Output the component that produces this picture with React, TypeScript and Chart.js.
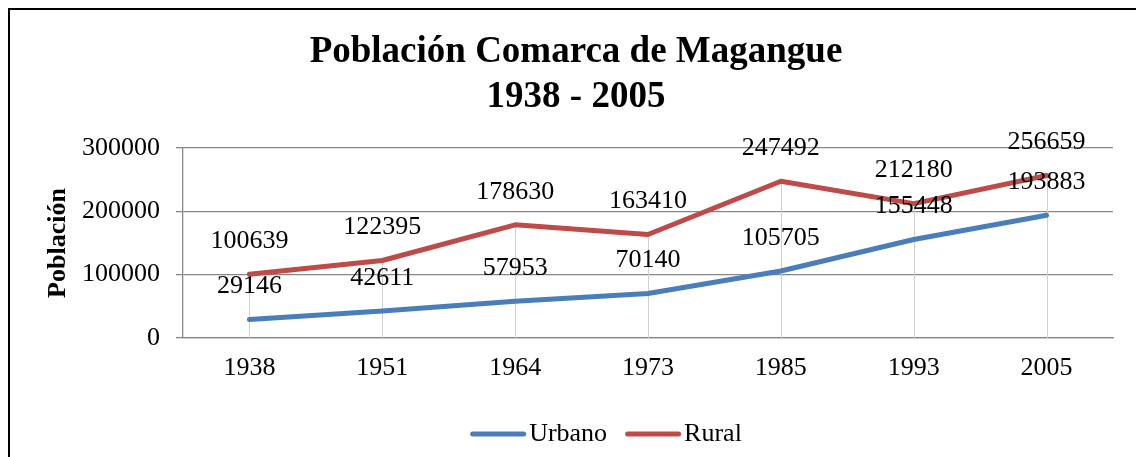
import React, { useEffect, useRef } from "react";
import { Chart, registerables } from "chart.js";

Chart.register(...registerables);

const categories = ["1938", "1951", "1964", "1973", "1985", "1993", "2005"];
const urbano = [29146, 42611, 57953, 70140, 105705, 155448, 193883];
const rural = [100639, 122395, 178630, 163410, 247492, 212180, 256659];
const seriesNames = ["Urbano", "Rural"];
const seriesColors = ["#4a7ebb", "#be4b48"];
const titleLines = ["Población Comarca de Magangue", "1938 - 2005"];
const yAxisTitle = "Población";
const yMin = 0;
const yMax = 300000;
const yStep = 100000;

const FONT = "'Liberation Serif', 'Times New Roman', serif";
const GRID = "#878787";

const dropLines = {
  id: "dropLines",
  beforeDatasetsDraw(chart: any) {
    const { ctx, scales } = chart;
    const x = scales.x;
    const y = scales.y;
    ctx.save();
    ctx.strokeStyle = "#cfcfcf";
    ctx.lineWidth = 1;
    categories.forEach((_, i) => {
      const vals = chart.data.datasets.map((d: any) => d.data[i] as number);
      const top = Math.max(...vals);
      const px = Math.round(x.getPixelForValue(i)) + 0.5;
      ctx.beginPath();
      ctx.moveTo(px, y.getPixelForValue(yMin));
      ctx.lineTo(px, y.getPixelForValue(top));
      ctx.stroke();
    });
    ctx.restore();
  },
};

const dataLabels = {
  id: "dataLabels",
  afterDatasetsDraw(chart: any) {
    const { ctx } = chart;
    ctx.save();
    ctx.font = `26px ${FONT}`;
    ctx.fillStyle = "#000";
    ctx.textAlign = "center";
    ctx.textBaseline = "middle";
    chart.data.datasets.forEach((ds: any, di: number) => {
      const meta = chart.getDatasetMeta(di);
      meta.data.forEach((pt: any, i: number) => {
        ctx.fillText(String(ds.data[i]), pt.x, pt.y - 33);
      });
    });
    ctx.restore();
  },
};

const lineLegend = {
  id: "lineLegend",
  afterDraw(chart: any) {
    const { ctx } = chart;
    const lineLen = 56;
    const gapText = 3;
    const gapItem = 18;
    const cy = 434;
    const centerX = 606;
    ctx.save();
    ctx.font = `26px ${FONT}`;
    const items = chart.data.datasets.map((d: any) => ({
      text: d.label as string,
      color: d.borderColor as string,
      w: lineLen + gapText + ctx.measureText(d.label).width,
    }));
    const total =
      items.reduce((s: number, it: any) => s + it.w, 0) + gapItem * (items.length - 1);
    let x = centerX - total / 2;
    items.forEach((it: any) => {
      ctx.strokeStyle = it.color;
      ctx.lineWidth = 5;
      ctx.lineCap = "round";
      ctx.beginPath();
      ctx.moveTo(x + 2.5, cy);
      ctx.lineTo(x + lineLen - 2.5, cy);
      ctx.stroke();
      ctx.fillStyle = "#000";
      ctx.textAlign = "left";
      ctx.textBaseline = "middle";
      ctx.fillText(it.text, x + lineLen + gapText, cy);
      x += it.w + gapItem;
    });
    ctx.restore();
  },
};

export default function App() {
  const canvasRef = useRef<HTMLCanvasElement | null>(null);

  useEffect(() => {
    if (!canvasRef.current) return;
    Chart.defaults.font.family = FONT;
    const chart = new Chart(canvasRef.current, {
      type: "line",
      data: {
        labels: categories,
        datasets: [
          {
            label: seriesNames[0],
            data: urbano,
            borderColor: seriesColors[0],
            backgroundColor: seriesColors[0],
            borderWidth: 5,
            pointRadius: 0,
            borderCapStyle: "round",
            borderJoinStyle: "round",
            tension: 0,
            fill: false,
          },
          {
            label: seriesNames[1],
            data: rural,
            borderColor: seriesColors[1],
            backgroundColor: seriesColors[1],
            borderWidth: 5,
            pointRadius: 0,
            borderCapStyle: "round",
            borderJoinStyle: "round",
            tension: 0,
            fill: false,
          },
        ],
      },
      options: {
        responsive: false,
        animation: false,
        devicePixelRatio: 1,
        layout: { padding: { left: 39, right: 23, top: 0, bottom: 0 } },
        plugins: {
          legend: { display: false },
          tooltip: { enabled: false },
          title: {
            display: true,
            text: titleLines,
            color: "#000",
            font: { family: FONT, size: 37, weight: "bold", lineHeight: 45 / 37 },
            padding: { top: 30, bottom: 28 },
          },
        },
        scales: {
          x: {
            type: "category",
            offset: true,
            grid: { display: false, drawTicks: false },
            border: { display: true, color: GRID, width: 1.3 },
            ticks: {
              color: "#000",
              font: { family: FONT, size: 26 },
              padding: 15,
              maxRotation: 0,
              autoSkip: false,
            },
            afterFit: (s: any) => {
              s.height = 119;
            },
          },
          y: {
            type: "linear",
            min: yMin,
            max: yMax,
            ticks: {
              stepSize: yStep,
              color: "#000",
              font: { family: FONT, size: 26 },
              padding: 16,
              callback: (v: any) => String(v),
            },
            grid: { color: GRID, lineWidth: 1.3, tickLength: 7, drawTicks: true },
            border: { display: true, color: GRID, width: 1.3 },
            title: {
              display: true,
              text: yAxisTitle,
              color: "#000",
              font: { family: FONT, size: 26, weight: "bold" },
              padding: { top: 4, bottom: 0 },
            },
            afterFit: (s: any) => {
              s.width = 144;
            },
          },
        },
      },
      plugins: [dropLines, dataLabels, lineLegend],
    } as any);
    return () => chart.destroy();
  }, []);

  return (
    <div
      style={{
        position: "fixed",
        left: 0,
        top: 0,
        width: 1136,
        height: 457,
        overflow: "hidden",
        background: "#fff",
      }}
    >
      <canvas
        ref={canvasRef}
        width={1136}
        height={457}
        style={{ position: "absolute", left: 0, top: 0, width: 1136, height: 457 }}
      />
      <div
        style={{
          position: "absolute",
          left: 8,
          top: 8,
          width: 1300,
          height: 700,
          borderLeft: "2px solid #000",
          borderTop: "2px solid #000",
          boxSizing: "border-box",
          pointerEvents: "none",
        }}
      />
    </div>
  );
}
